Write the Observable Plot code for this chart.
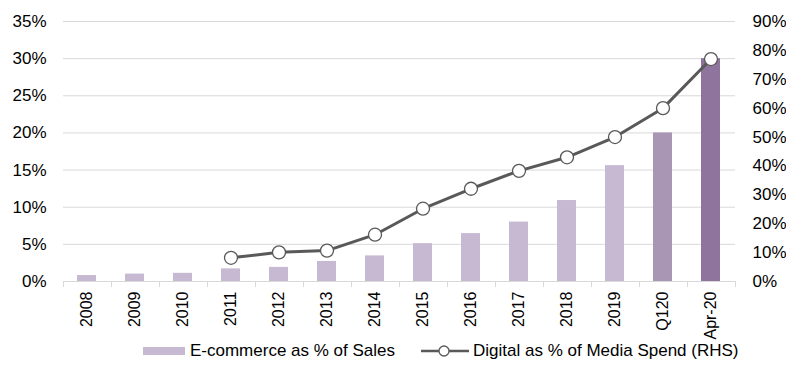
<!DOCTYPE html>
<html>
<head>
<meta charset="utf-8">
<script src="https://cdn.jsdelivr.net/npm/d3@7"></script>
<script src="https://cdn.jsdelivr.net/npm/@observablehq/plot@0.6"></script>
<style>
  html, body { margin: 0; padding: 0; background: #fff; }
  #chart { width: 786px; height: 370px; position: relative; font-family: "Liberation Sans", Arial, sans-serif; }
  #chart svg { display: block; }
  .legend { position: absolute; left: 0; top: 340px; height: 22px; width: 786px; font-size: 17px; color: #000; }
  .legend .item { position: absolute; top: 0; display: flex; align-items: center; height: 22px; white-space: nowrap; }
  .legend .sw-bar { width: 42px; height: 8px; margin-right: 5px; }
  .legend svg { margin-right: 4px; }
</style>
</head>
<body>
<div id="chart"></div>
<script>
// ---- data ----
const categories = ["2008","2009","2010","2011","2012","2013","2014","2015","2016","2017","2018","2019","Q120","Apr-20"];
const ecommerceShare = [0.8, 1.0, 1.1, 1.7, 1.9, 2.7, 3.45, 5.1, 6.45, 8.0, 10.9, 15.6, 20.0, 30.0]; // % of sales (LHS)
const digitalShare = [null, null, null, 8.2, 10.1, 10.7, 16.2, 25.2, 32.1, 38.3, 43.0, 50.0, 60.0, 77.0]; // % of media spend (RHS)
const leftTicks = [0, 5, 10, 15, 20, 25, 30, 35];
const rightTicks = [0, 10, 20, 30, 40, 50, 60, 70, 80, 90];
const seriesNames = ["E-commerce as % of Sales", "Digital as % of Media Spend (RHS)"];

// ---- styles ----
const barColors = ["#c8b9d2","#c8b9d2","#c8b9d2","#c8b9d2","#c8b9d2","#c8b9d2","#c8b9d2","#c8b9d2","#c8b9d2","#c8b9d2","#c8b9d2","#c8b9d2","#a996b5","#8f759d"];
const lineColor = "#595959";
const gridColor = "#d9d9d9";
const leftMax = 35, rightMax = 90;
const toLeft = v => v * leftMax / rightMax;

const bars = categories.map((c, i) => ({cat: c, value: ecommerceShare[i], color: barColors[i]}));
const line = categories.map((c, i) => ({cat: c, value: digitalShare[i]})).filter(d => d.value != null);

// band-boundary ticks under the x axis, derived from the band scale
const boundaryTicks = (index, scales, values, dims) => {
  const x = scales.x;
  const bw = typeof x.bandwidth === "function" ? x.bandwidth() : x.bandwidth;
  const step = typeof x.step === "function" ? x.step() : (typeof x.step === "number" ? x.step : bw / 0.4);
  const start = x(categories[0]) - (step - bw) / 2;
  const y0 = scales.y(0);
  const g = d3.create("svg:g").attr("stroke", gridColor).attr("stroke-width", 1);
  for (let i = 0; i <= categories.length; i++) {
    const px = Math.round(start + i * step) + 0.5;
    g.append("line").attr("x1", px).attr("x2", px).attr("y1", y0).attr("y2", y0 + 6);
  }
  return g.node();
};

const plot = Plot.plot({
  width: 786,
  height: 341,
  marginLeft: 63,
  marginRight: 51,
  marginTop: 21,
  marginBottom: 60,
  style: {fontFamily: '"Liberation Sans", Arial, sans-serif', fontSize: "17px", color: "#000", background: "#fff"},
  x: {domain: categories, paddingInner: 0.6, paddingOuter: 0.3, label: null, axis: null},
  y: {domain: [0, leftMax], label: null, axis: null},
  marks: [
    Plot.ruleY(leftTicks, {stroke: gridColor, strokeWidth: 1}),
    Plot.axisY({ticks: leftTicks, tickFormat: d => d + "%", tickSize: 0, tickPadding: 17, label: null, fontSize: 17}),
    Plot.axisY({anchor: "right", ticks: rightTicks.map(toLeft), tickFormat: d => Math.round(d * rightMax / leftMax) + "%", tickSize: 0, tickPadding: 17, label: null, fontSize: 17, textAnchor: "start"}),
    Plot.axisX({tickSize: 0, tickPadding: 10, tickRotate: -90, label: null, fontSize: 16}),
    Plot.barY(bars, {x: "cat", y: "value", fill: "color"}),
    boundaryTicks,
    Plot.line(line, {x: "cat", y: d => toLeft(d.value), stroke: lineColor, strokeWidth: 3}),
    Plot.dot(line, {x: "cat", y: d => toLeft(d.value), r: 6.5, fill: "white", stroke: lineColor, strokeWidth: 1.3})
  ]
});

const chart = document.getElementById("chart");
chart.appendChild(plot);

const legend = document.createElement("div");
legend.className = "legend";
legend.innerHTML = `
  <div class="item" style="left:143px"><div class="sw-bar" style="background:${barColors[0]}"></div><span>${seriesNames[0]}</span></div>
  <div class="item" style="left:421px"><svg width="48" height="16"><line x1="0" y1="8" x2="48" y2="8" stroke="${lineColor}" stroke-width="2.5"/><circle cx="23" cy="8" r="5" fill="white" stroke="${lineColor}" stroke-width="1.3"/></svg><span>${seriesNames[1]}</span></div>`;
chart.appendChild(legend);
</script>
</body>
</html>
